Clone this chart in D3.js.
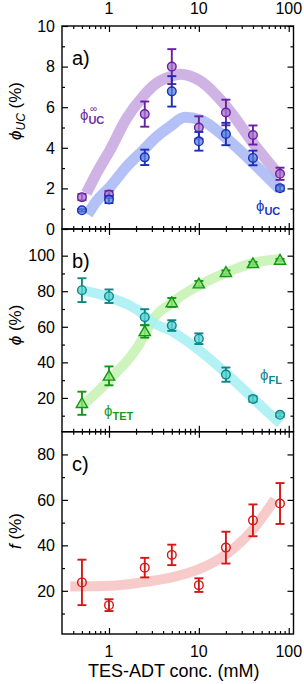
<!DOCTYPE html>
<html>
<head>
<meta charset="utf-8">
<script src="https://cdn.jsdelivr.net/npm/d3@7"></script>
<style>
  body { margin: 0; background: #fff; }
  svg text { font-family: "Liberation Sans", Arial, sans-serif; }
</style>
</head>
<body>
<div id="chart"></div>
<script>
// concentrations (mM)
var conc = [0.5, 1, 2.5, 5, 10, 20, 40, 80];

// panel a
var ucInf = [1.57, 1.7, 5.66, 8.0, 5.0, 5.74, 4.63, 2.72];
var ucInfErr = [0.15, 0.17, 0.62, 0.86, 0.55, 0.63, 0.47, 0.3];
var uc = [0.92, 1.45, 3.53, 6.78, 4.32, 4.68, 3.5, 2.01];
var ucErr = [0.06, 0.17, 0.38, 0.75, 0.46, 0.55, 0.36, 0.13];
var ucInfFitX = [0.56, 0.75, 1.03, 1.57, 2.41, 3.3, 4.78, 6.2, 10.3, 20.5, 40.5, 80];
var ucInfFitY = [1.76, 2.85, 3.9, 5.45, 6.55, 7.15, 7.5, 7.62, 7.3, 6.0, 4.22, 2.6];
var ucFitX = [0.58, 0.72, 1.03, 1.57, 2.41, 3.3, 4.78, 7.0, 10.3, 20.5, 40.5, 80];
var ucFitY = [0.72, 1.35, 2.08, 3.07, 3.89, 4.5, 5.05, 5.5, 5.38, 4.45, 3.24, 1.95];

// panel b
var fl = [80.6, 77.2, 65.4, 60.7, 53.3, 33.1, 19.4, 10.5];
var flErr = [6.7, 3.8, 4.5, 3.0, 3.0, 4.0, 1.5, 1.0];
var tet = [17.0, 32.4, 57.4, 73.7, 84.3, 90.7, 95.7, 97.6];
var tetErr = [6.5, 5.3, 3.5, 2.5, 1.5, 1.0, 0.8, 0.6];
var flFitX = [0.5, 1, 2.5, 2.86, 5, 10.2, 20.5, 40.5, 80.4];
var flFitY = [80.6, 76.6, 66.3, 63.5, 57.5, 46.6, 33.5, 19.5, 5.5];
var tetFitX = [0.5, 1, 2.5, 2.86, 5, 10.2, 20.5, 40.5, 80.4];
var tetFitY = [15.5, 30.0, 55.5, 61.5, 73.5, 83.5, 90.6, 95.9, 98.1];

// panel c
var fVal = [23.7, 13.7, 30.2, 35.8, 22.5, 39.0, 51.0, 58.4];
var fErr = [10.0, 2.6, 4.3, 4.5, 3.0, 7.0, 7.0, 9.0];
var fFitX = [0.37, 1.03, 2.6, 5, 10, 20, 40, 70];
var fFitY = [21.9, 22.2, 24.0, 25.9, 29.5, 36.0, 47.0, 60.3];

// tick values
var xMajor = [1, 10, 100];
var xMinor = [0.4, 0.5, 0.6, 0.7, 0.8, 0.9, 2, 3, 4, 5, 6, 7, 8, 9, 20, 30, 40, 50, 60, 70, 80, 90];
var aMajor = [0, 2, 4, 6, 8, 10];
var aMinor = [1, 3, 5, 7, 9];
var bMajor = [20, 40, 60, 80, 100];
var bMinor = [10, 30, 50, 70, 90];
var cMajor = [20, 40, 60, 80];
var cMinor = [10, 30, 50, 70];

var svgWidth = 304;
var svgHeight = 684;
var left = 62, right = 293.5;

var svg = d3.select('#chart')
    .append('svg')
    .attr('width', svgWidth)
    .attr('height', svgHeight);

var x = d3.scaleLog().domain([0.3, 113]).range([left, right]);

var panels = [
    { top: 26, bottom: 229, y: d3.scaleLinear().domain([0, 10]).range([229, 26]), major: aMajor, minor: aMinor, label: 'a)' },
    { top: 229, bottom: 431.7, y: d3.scaleLinear().domain([1, 115]).range([431.7, 229]), major: bMajor, minor: bMinor, label: 'b)' },
    { top: 431.7, bottom: 634, y: d3.scaleLinear().domain([1, 90]).range([634, 431.7]), major: cMajor, minor: cMinor, label: 'c)' }
];

function drawBand(g, y, xs, ys, color, w) {
    var pts = xs.map(function (d, i) { return [d, ys[i]]; });
    var line = d3.line()
        .x(function (d) { return x(d[0]); })
        .y(function (d) { return y(d[1]); })
        .curve(d3.curveMonotoneX);
    g.append('path')
        .attr('d', line(pts))
        .attr('fill', 'none')
        .attr('stroke', color)
        .attr('stroke-width', w)
        .attr('stroke-linecap', 'butt')
        .attr('opacity', 0.85);
}

function drawPoints(g, y, vals, errs, stroke, fill, shape) {
    var pts = conc.map(function (d, i) { return { x: d, v: vals[i], e: errs[i] }; });
    var eb = g.append('g').attr('stroke', stroke).attr('stroke-width', 1.9);
    pts.forEach(function (p) {
        var cx = x(p.x);
        eb.append('line').attr('x1', cx).attr('x2', cx).attr('y1', y(p.v - p.e)).attr('y2', y(p.v + p.e));
        eb.append('line').attr('x1', cx - 4.5).attr('x2', cx + 4.5).attr('y1', y(p.v - p.e)).attr('y2', y(p.v - p.e));
        eb.append('line').attr('x1', cx - 4.5).attr('x2', cx + 4.5).attr('y1', y(p.v + p.e)).attr('y2', y(p.v + p.e));
    });
    if (shape === 'tri') {
        g.selectAll(null)
            .data(pts)
            .enter()
            .append('path')
            .attr('d', d3.symbol().type(d3.symbolTriangle).size(55))
            .attr('transform', function (p) { return 'translate(' + x(p.x) + ',' + (y(p.v) + 1) + ')'; })
            .attr('fill', fill)
            .attr('stroke', stroke)
            .attr('stroke-width', 1.4);
    } else {
        g.selectAll(null)
            .data(pts)
            .enter()
            .append('circle')
            .attr('cx', function (p) { return x(p.x); })
            .attr('cy', function (p) { return y(p.v); })
            .attr('r', 4.3)
            .attr('fill', fill)
            .attr('stroke', stroke)
            .attr('stroke-width', 1.4);
    }
}

panels.forEach(function (p, i) {
    var g = svg.append('g');

    // x axes (ticks point inward)
    g.append('g').attr('transform', 'translate(0,' + p.bottom + ')')
        .call(d3.axisBottom(x).tickValues(xMinor).tickSize(-3).tickFormat(''));
    g.append('g').attr('transform', 'translate(0,' + p.bottom + ')')
        .call(d3.axisBottom(x).tickValues(xMajor).tickSize(-6).tickFormat(''));
    g.append('g').attr('transform', 'translate(0,' + p.top + ')')
        .call(d3.axisTop(x).tickValues(xMinor).tickSize(-3).tickFormat(''));
    g.append('g').attr('transform', 'translate(0,' + p.top + ')')
        .call(d3.axisTop(x).tickValues(xMajor).tickSize(-6).tickFormat(''));

    // y axes
    g.append('g').attr('transform', 'translate(' + left + ',0)')
        .call(d3.axisLeft(p.y).tickValues(p.minor).tickSize(-3).tickFormat(''));
    g.append('g').attr('transform', 'translate(' + left + ',0)')
        .call(d3.axisLeft(p.y).tickValues(p.major).tickSize(-6).tickFormat(''));
    g.append('g').attr('transform', 'translate(' + right + ',0)')
        .call(d3.axisRight(p.y).tickValues(p.minor).tickSize(-3).tickFormat(''));
    g.append('g').attr('transform', 'translate(' + right + ',0)')
        .call(d3.axisRight(p.y).tickValues(p.major).tickSize(-6).tickFormat(''));

    g.selectAll('.domain').remove();
    g.selectAll('.tick line').attr('stroke', '#000').attr('stroke-width', 1.2);

    // y tick labels
    g.selectAll(null)
        .data(p.major)
        .enter()
        .append('text')
        .attr('x', left - 7)
        .attr('y', function (d) { return p.y(d); })
        .attr('dy', '0.36em')
        .attr('text-anchor', 'end')
        .style('font-size', '16px')
        .text(function (d) { return d; });

    g.append('text')
        .attr('x', 72)
        .attr('y', p.top + 39)
        .style('font-size', '20px')
        .text(p.label);
    p.g = g;
});

var pa = panels[0], pb = panels[1], pc = panels[2];

// panel a
drawBand(pa.g, pa.y, ucInfFitX, ucInfFitY, '#c6a6df', 11);
drawBand(pa.g, pa.y, ucFitX, ucFitY, '#a6b6f4', 11);
drawPoints(pa.g, pa.y, ucInf, ucInfErr, '#6b1f9e', 'rgba(170,120,210,0.75)', 'circle');
drawPoints(pa.g, pa.y, uc, ucErr, '#1a2fb8', 'rgba(90,130,220,0.75)', 'circle');

// panel b
drawBand(pb.g, pb.y, tetFitX, tetFitY, '#c6f2b2', 10);
drawBand(pb.g, pb.y, flFitX, flFitY, '#a6f0f2', 10);
drawPoints(pb.g, pb.y, fl, flErr, '#118585', 'rgba(90,215,215,0.8)', 'circle');
drawPoints(pb.g, pb.y, tet, tetErr, '#139613', 'rgba(150,230,130,0.8)', 'tri');

// panel c
drawBand(pc.g, pc.y, fFitX, fFitY, '#f7c2c2', 10);
drawPoints(pc.g, pc.y, fVal, fErr, '#d41818', 'none', 'circle');

// frames
panels.forEach(function (p) {
    svg.append('rect')
        .attr('x', left).attr('y', p.top)
        .attr('width', right - left).attr('height', p.bottom - p.top)
        .attr('fill', 'none').attr('stroke', '#000').attr('stroke-width', 1.4);
});

// top and bottom x tick labels
svg.selectAll(null)
    .data(xMajor)
    .enter()
    .append('text')
    .attr('x', function (d) { return x(d); })
    .attr('y', 14)
    .attr('text-anchor', 'middle')
    .style('font-size', '16px')
    .text(function (d) { return d; });
svg.selectAll(null)
    .data(xMajor)
    .enter()
    .append('text')
    .attr('x', function (d) { return x(d); })
    .attr('y', 657)
    .attr('text-anchor', 'middle')
    .style('font-size', '16px')
    .text(function (d) { return d; });

svg.append('text')
    .attr('x', (left + right) / 2 - 4)
    .attr('y', 677)
    .attr('text-anchor', 'middle')
    .style('font-size', '18px')
    .text('TES-ADT conc. (mM)');

// y axis titles
var t1 = svg.append('text')
    .attr('transform', 'translate(21,' + 111 + ') rotate(-90)')
    .attr('text-anchor', 'middle')
    .style('font-size', '17px');
t1.append('tspan').style('font-style', 'italic').text('ϕ');
t1.append('tspan').style('font-style', 'italic').style('font-size', '12px').attr('dy', 4).text('UC');
t1.append('tspan').attr('dy', -4).text(' (%)');

var t2 = svg.append('text')
    .attr('transform', 'translate(21,' + 325 + ') rotate(-90)')
    .attr('text-anchor', 'middle')
    .style('font-size', '17px');
t2.append('tspan').style('font-style', 'italic').text('ϕ');
t2.append('tspan').text(' (%)');

var t3 = svg.append('text')
    .attr('transform', 'translate(21,' + 531 + ') rotate(-90)')
    .attr('text-anchor', 'middle')
    .style('font-size', '17px');
t3.append('tspan').style('font-style', 'italic').text('f');
t3.append('tspan').text(' (%)');

// series annotations
function note(xp, yp, sub, color, sup) {
    var t = svg.append('text').attr('x', xp).attr('y', yp).attr('fill', color).style('font-size', '15px');
    t.append('tspan').text('ϕ');
    t.append('tspan').attr('dy', 4).style('font-size', '11px').style('font-weight', 'bold').text(sub);
    if (sup) {
        svg.append('text').attr('x', xp + 10).attr('y', yp - 8).attr('fill', color)
            .style('font-size', '10px').text(sup);
    }
}
note(80, 120, 'UC', '#7030a0', '∞');
note(256, 211, 'UC', '#1a35c0');
note(260, 380, 'FL', '#13868a');
note(104, 416, 'TET', '#1a9a1a');
</script>
</body>
</html>
